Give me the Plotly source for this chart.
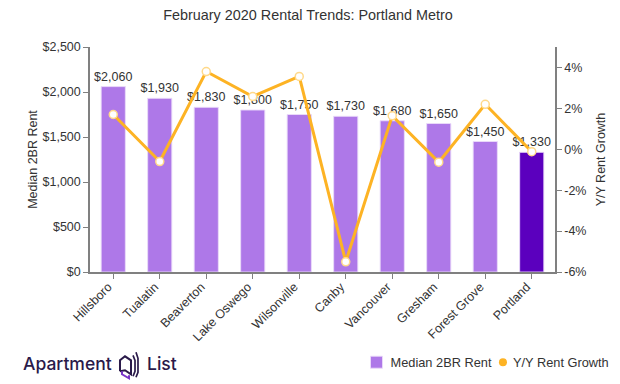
import plotly.graph_objects as go

cities = ["Hillsboro", "Tualatin", "Beaverton", "Lake Oswego", "Wilsonville",
          "Canby", "Vancouver", "Gresham", "Forest Grove", "Portland"]
rent = [2060, 1930, 1830, 1800, 1750, 1730, 1680, 1650, 1450, 1330]
growth = [1.7, -0.6, 3.8, 2.58, 3.56, -5.5, 1.64, -0.63, 2.2, -0.12]
PURPLE = "#ae78e8"
DARK = "#5b00be"
ORANGE = "#fdb324"
TXT = "#333333"
AXIS = "#808080"
FONT = "Liberation Sans, Arial, sans-serif"
FS = 12.5

fig = go.Figure()
fig.add_bar(x=cities, y=rent, name="Median 2BR Rent",
            marker=dict(color=[PURPLE] * 9 + [DARK],
                        line=dict(color="rgba(235,220,250,0.9)", width=1)),
            text=[f"${v:,}" for v in rent], textposition="outside",
            textangle=0, cliponaxis=False, constraintext="none",
            textfont=dict(size=FS, color=TXT, family=FONT), hoverinfo="x+y")
fig.add_scatter(x=cities, y=growth, yaxis="y2", mode="lines+markers", showlegend=False,
                line=dict(color=ORANGE, width=3),
                marker=dict(size=8, color="white", line=dict(color="#ffd98a", width=1.5)),
                cliponaxis=False)
fig.add_scatter(x=cities, y=[None] * len(cities), yaxis="y2", mode="markers",
                name="Y/Y Rent Growth", marker=dict(size=8, color=ORANGE))

axis_common = dict(showgrid=False, zeroline=False, showline=True, linecolor=AXIS,
                   linewidth=1.5, ticks="outside", ticklen=5, tickcolor=AXIS, tickwidth=1,
                   automargin=False, tickfont=dict(size=FS, color=TXT, family=FONT))
fig.update_layout(
    width=620, height=384, autosize=False,
    margin=dict(l=90, r=65, t=47, b=111.5, pad=0, autoexpand=False),
    paper_bgcolor="white", plot_bgcolor="white",
    bargap=0.48,
    title=dict(text="February 2020 Rental Trends: Portland Metro", x=0.4968, xanchor="center",
               y=0.96, yanchor="middle", font=dict(size=14.4, color=TXT, family=FONT)),
    xaxis=dict(**axis_common, tickangle=-45, range=[-0.5, 9.5],
               ticklabelshift=-5, ticklabelstandoff=-4),
    yaxis=dict(**axis_common, range=[0, 2500], tickvals=[0, 500, 1000, 1500, 2000, 2500],
               ticktext=["$0", "$500", "$1,000", "$1,500", "$2,000", "$2,500"],
               title=dict(text="Median 2BR Rent", standoff=2, font=dict(size=FS, color=TXT, family=FONT))),
    yaxis2=dict(**axis_common, overlaying="y", side="right", range=[-6, 5],
                tickvals=[-6, -4, -2, 0, 2, 4],
                ticktext=["-6%", "-4%", "-2%", "0%", "2%", "4%"],
                title=dict(text="Y/Y Rent Growth", standoff=11, font=dict(size=FS, color=TXT, family=FONT))),
    legend=dict(orientation="h", x=(614.5 - 90) / 465, xanchor="right", y=-0.335, yanchor="top",
                font=dict(size=12.8, color=TXT, family=FONT), bgcolor="rgba(0,0,0,0)",
                itemwidth=30, traceorder="normal"),
)

def px(x):
    return (x - 90) / 465

def py(y):
    return (272.5 - y) / 225.5

INK = "#2a1a4a"
fig.add_annotation(text="Apartment", x=px(22), y=py(364.5), xref="paper", yref="paper",
                   xanchor="left", yanchor="middle", showarrow=False, borderpad=0,
                   font=dict(size=17.5, color=INK, family="Inter, sans-serif", weight=500))
fig.add_annotation(text="List", x=px(146), y=py(364.5), xref="paper", yref="paper",
                   xanchor="left", yanchor="middle", showarrow=False, borderpad=0,
                   font=dict(size=17.5, color=INK, family="Inter, sans-serif", weight=500))
logo_strokes = [
    ([120, 120, 125, 131, 131, 125, 120], [372, 361, 357, 361, 375, 371, 372], INK, 2),
    ([133, 135, 135, 133], [356, 361, 372, 377], INK, 1.7),
    ([136, 138, 138, 136], [353, 359, 373, 378], INK, 1.7),
    ([122, 122, 129, 129], [372, 375, 379, 376], "#7a35c8", 2),
]
for xs, ys, c, w in logo_strokes:
    path = "M" + " L".join(f"{px(a):.4f},{py(b):.4f}" for a, b in zip(xs, ys))
    fig.add_shape(type="path", path=path, xref="paper", yref="paper",
                  line=dict(color=c, width=w))

post = """
document.body.style.margin = '0';
var shifts = [6, 10];
document.querySelectorAll('.legend .legendsymbols').forEach(function (g, i) {
  g.setAttribute('transform', 'translate(' + shifts[i] + ',0)');
});
var first = document.querySelector('.legend .traces');
if (first) {
  var t = first.getAttribute('transform').match(/translate\\(([-\\d.]+),\\s*([-\\d.]+)\\)/);
  first.setAttribute('transform', 'translate(' + (parseFloat(t[1]) + 24) + ',' + t[2] + ')');
}
"""
fig.write_html("out.html", post_script=post, config={"displayModeBar": False})
